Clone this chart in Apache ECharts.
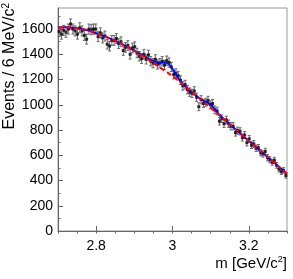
<!DOCTYPE html>
<html><head><meta charset="utf-8">
<script src="https://cdn.jsdelivr.net/npm/echarts@6/dist/echarts.min.js"></script>
<style>html,body{margin:0;padding:0;background:#fff}#c{width:293px;height:279px}</style>
</head><body><div id="c"></div>
<script>
// ---- data ----
const binStart = 2.703;   // first bin centre (GeV)
const binWidth = 0.006;   // 6 MeV bins
const counts = [1580,1560,1590,1575,1600,1640,1600,1585,1560,1610,
 1585,1550,1520,1600,1595,1600,1600,1540,1570,1530,
 1545,1480,1465,1510,1510,1525,1485,1500,1430,1455,
 1470,1400,1450,1460,1410,1385,1365,1400,1360,1395,
 1345,1330,1360,1320,1330,1345,1315,1350,1335,1300,
 1240,1250,1230,1195,1150,1160,1120,1100,1090,1110,
 1060,985,1040,1010,1020,1035,1000,1010,960,950,
 870,890,850,880,850,830,830,780,795,790,
 740,760,700,730,680,690,655,660,620,610,
 630,580,565,545,560,520,490,470,480,440];
const bgX = [2.70,2.72,2.74,2.76,2.78,2.80,2.82,2.84,2.86,2.88,2.90,2.92,2.94,2.96,2.98,3.00,3.02,3.04,3.06,3.08,3.10,3.12,3.14,3.16,3.18,3.20,3.22,3.24,3.26,3.28,3.30];
const bgY = [1610,1615,1612,1603,1588,1568,1546,1521,1493,1462,1428,1392,1352,1311,1270,1228,1180,1128,1078,1027,977,925,872,820,767,714,662,610,558,506,455];
const fitX = [2.70,2.72,2.74,2.76,2.78,2.80,2.82,2.84,2.86,2.88,2.90,2.92,2.93,2.94,2.95,2.96,2.97,2.98,2.99,3.00,3.01,3.02,3.03,3.04,3.05,3.06,3.07,3.08,3.09,3.10,3.11,3.12,3.14,3.16,3.18,3.20,3.22,3.24,3.26,3.28,3.30];
const fitY = [1610,1615,1612,1603,1588,1568,1546,1521,1494,1463,1430,1396,1379,1362,1348,1339,1335,1335,1322,1285,1235,1192,1155,1130,1104,1079,1055,1034,1020,1004,968,930,873,820,767,714,662,610,558,506,455];
const xMajorTicks = [2.8, 3.0, 3.2];
const xLabels = ['2.8', '3', '3.2'];
const yMajorTicks = [0,200,400,600,800,1000,1200,1400,1600];
const yMinorTicks = [100,300,500,700,900,1100,1300,1500,1700];
const xTitle = 'm [GeV/c{sup|2}]';
const yTitle = 'Events / 6 MeV/c{sup|2}';

// ---- build ----
const pts = counts.map((n, i) => [+(binStart + i * binWidth).toFixed(3), n, Math.sqrt(n)]);
const bg = bgX.map((x, i) => [x, bgY[i]]);
const fit = fitX.map((x, i) => [x, fitY[i]]);

const XMIN = 2.7, XMAX = 3.3, YMIN = 0, YMAX = 1767;
const font = 'Liberation Sans, Arial, Helvetica, sans-serif';
const chart = echarts.init(document.getElementById('c'), null, {renderer: 'canvas'});

const baseX = {type: 'value', min: XMIN, max: XMAX, gridIndex: 0, splitLine: {show: false}};
const baseY = {type: 'value', min: YMIN, max: YMAX, gridIndex: 0, splitLine: {show: false}};

chart.setOption({
  animation: false,
  grid: {left: 58, right: 6, top: 8, bottom: 48, show: true, borderColor: '#999', borderWidth: 1, backgroundColor: 'transparent'},
  xAxis: [
    Object.assign({}, baseX, {
      axisLine: {show: true, lineStyle: {color: '#666', width: 1}},
      axisTick: {show: true, inside: true, length: 5, lineStyle: {color: '#666'}, customValues: xMajorTicks},
      axisLabel: {show: true, customValues: xMajorTicks, margin: 8, color: '#000', fontSize: 14, fontFamily: font,
        formatter: v => xLabels[xMajorTicks.findIndex(t => Math.abs(t - v) < 1e-6)] || ''}
    }),
    Object.assign({}, baseX, {
      interval: 0.05,
      axisLine: {show: false},
      axisTick: {show: true, inside: true, length: 2.5, lineStyle: {color: '#666'}},
      axisLabel: {show: false}
    })
  ],
  yAxis: [
    Object.assign({}, baseY, {
      axisLine: {show: true, lineStyle: {color: '#666', width: 1}},
      axisTick: {show: true, inside: true, length: 5, lineStyle: {color: '#666'}, customValues: yMajorTicks},
      axisLabel: {show: true, customValues: yMajorTicks, margin: 5, color: '#000', fontSize: 14, fontFamily: font,
        formatter: v => String(Math.round(v))}
    }),
    Object.assign({}, baseY, {
      position: 'left',
      axisLine: {show: false},
      axisTick: {show: true, inside: true, length: 2.5, lineStyle: {color: '#666'}, customValues: yMinorTicks},
      axisLabel: {show: false}
    })
  ],
  graphic: [
    {type: 'text', x: 287, y: 264, z: 10,
      style: {text: xTitle, fill: '#000', font: '15px ' + font, align: 'right', verticalAlign: 'middle',
        rich: {sup: {fontSize: 9, fontFamily: font, fill: '#000', verticalAlign: 'top', padding: [0, 0, 8, 0]}}}},
    {type: 'text', x: 10, y: 3, rotation: Math.PI / 2, z: 10,
      style: {text: yTitle, fill: '#000', font: '16px ' + font, align: 'right', verticalAlign: 'middle',
        rich: {sup: {fontSize: 10, fontFamily: font, fill: '#000', verticalAlign: 'top', padding: [0, 0, 8, 0]}}}}
  ],
  series: [
    {type: 'custom', xAxisIndex: 0, yAxisIndex: 0, data: pts, encode: {x: 0, y: 1}, z: 2,
      renderItem: function (params, api) {
        const x = api.value(0), y = api.value(1), e = api.value(2);
        const t = api.coord([x, y + e]), b = api.coord([x, y - e]);
        const s = {stroke: '#666', lineWidth: 1};
        return {type: 'group', children: [
          {type: 'line', shape: {x1: t[0], y1: t[1], x2: b[0], y2: b[1]}, style: s},
          {type: 'line', shape: {x1: t[0] - 1.5, y1: t[1], x2: t[0] + 1.5, y2: t[1]}, style: s},
          {type: 'line', shape: {x1: b[0] - 1.5, y1: b[1], x2: b[0] + 1.5, y2: b[1]}, style: s}
        ]};
      }},
    {type: 'scatter', xAxisIndex: 0, yAxisIndex: 0, data: pts.map(p => [p[0], p[1]]), symbol: 'rect', symbolSize: 3,
      itemStyle: {color: '#000'}, z: 3},
    {type: 'line', xAxisIndex: 0, yAxisIndex: 0, data: fit, showSymbol: false, smooth: 0.4, z: 4,
      lineStyle: {color: '#0000ff', width: 1.8}},
    {type: 'line', xAxisIndex: 0, yAxisIndex: 0, data: bg, showSymbol: false, smooth: 0.4, z: 5,
      lineStyle: {color: '#ff0000', width: 2, type: [5, 3]}}
  ]
});
</script></body></html>
